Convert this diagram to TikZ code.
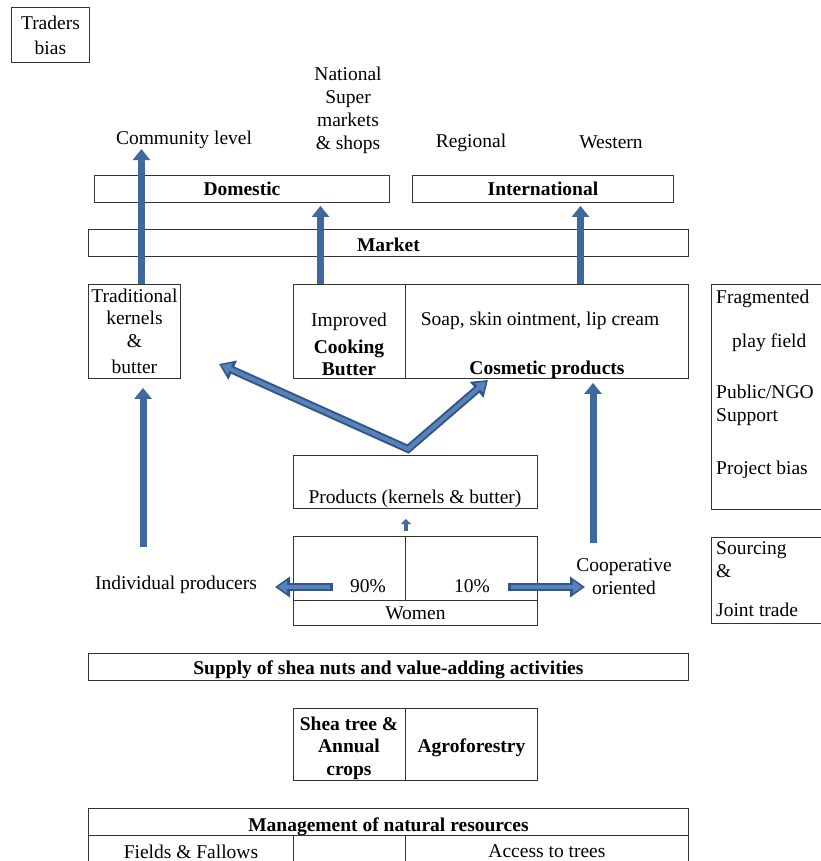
\documentclass[tikz,border=0pt]{standalone}
\usepackage{fontspec}
\setmainfont{Liberation Serif}
\usepackage{xcolor}
\usepackage{tikz}
\usetikzlibrary{arrows.meta,positioning,calc}
\definecolor{arrowblue}{RGB}{62,104,158}
\definecolor{arrowdark}{RGB}{50,86,136}
\definecolor{arrowlight}{RGB}{88,130,186}

\begin{document}
\begin{tikzpicture}[x=1pt,y=-1pt,
	box/.style={draw=black!80,line width=0.9pt,inner sep=0pt,anchor=north west,align=center,font=\fontsize{19.5}{23}\selectfont},
	boxlow/.style={box,text height=#1,text depth=0pt},
	lbl/.style={inner sep=0pt,align=center,font=\fontsize{19.5}{23}\selectfont},
	upar/.style={draw=arrowblue,line width=7pt,-{Triangle[width=17pt,length=11pt]}},
	smallar/.style={draw=arrowblue,line width=4pt,-{Triangle[width=10pt,length=5pt]}},
	blockar/.style={draw=arrowdark,line width=8pt,line join=miter,>={Triangle[width=20pt,length=15pt]},#1,
		postaction={draw=arrowlight,line width=4pt,shorten >=3pt,shorten <=3pt,>={Triangle[width=12pt,length=9pt]},#1}}]

	\useasboundingbox (0,0) rectangle (820,861);

  	\node[box,minimum width=78,minimum height=55] at (11,7) (traders) {Traders\\[2pt]bias};

  	\node[lbl] at (348,110) (natl) {National\\Super\\markets\\\& shops};
  	\node[lbl] at (184,140) (comm) {Community level};
  	\node[lbl] at (471,143) (regional) {Regional};
  	\node[lbl] at (611,142) (western) {Western};

  	\node[box,minimum width=295,minimum height=27] at (94,175) (domestic) {\textbf{Domestic}};
  	\node[box,minimum width=261,minimum height=27] at (412,175) (intl) {\textbf{International}};
  	\node[boxlow=17pt,minimum width=600,minimum height=27] at (88,229) (market) {\textbf{Market}};

  	\node[box,minimum width=92,minimum height=94] at (88,284) (trad) {Traditional\\[-1pt]kernels\\\&\\[3pt]butter};
  	\node[box,minimum width=112,minimum height=94] at (293,284) (improved) {};
  	\node[box,minimum width=283,minimum height=94] at (405,284) (cosmetic) {};
  		\node[lbl] at (349,344) (imptxt) {Improved\\[4pt]\textbf{Cooking}\\[-1pt]\textbf{Butter}};
  		\node[lbl] at (540,321) (soaptxt) {Soap, skin ointment, lip cream};
  		\node[lbl] at (547,370) (cosmtxt) {\textbf{Cosmetic products}};

  	\node[box,minimum width=120,minimum height=225] at (711,284) (field) {};
  		\node[lbl,align=left,anchor=north west] at (716,290) (fieldtxt) {Fragmented\\[21pt]\hspace*{16pt}play field\\[28pt]Public/NGO\\Support\\[30pt]Project bias};

  	\node[box,minimum width=244,minimum height=53] at (293,455) (products) {};
  		\node[lbl] at (415,499) (prodtxt) {Products (kernels \& butter)};

  	\node[box,minimum width=112,minimum height=64] at (293,536) (w90) {};
  	\node[box,minimum width=132,minimum height=64] at (405,536) (w10) {};
  	\node[boxlow=14pt,minimum width=244,minimum height=25] at (293,600) (women) {Women};
  		\node[lbl] at (368,586) (p90) {90\%};
  		\node[lbl] at (472,586) (p10) {10\%};

  	\node[lbl] at (176,585) (indiv) {Individual producers};
  	\node[lbl] at (624,577) (coop) {Cooperative\\oriented};

  	\node[box,minimum width=120,minimum height=86] at (711,537) (sourcing) {};
  		\node[lbl,align=left,anchor=north west] at (716,541) (srctxt) {Sourcing\\\&\\[16pt]Joint trade};

  	\node[boxlow=16pt,minimum width=600,minimum height=27] at (88,653) (supply) {\textbf{Supply of shea nuts and value-adding activities}};
  	\node[box,minimum width=112,minimum height=72] at (293,708) (shea) {};
  		\node[lbl] at (349,748) (sheatxt) {\textbf{Shea tree \&}\\[-1pt]\textbf{Annual}\\\textbf{crops}};
  	\node[boxlow=16pt,minimum width=132,minimum height=72] at (405,708) (agro) {\textbf{Agroforestry}};

  	\node[boxlow=19pt,minimum width=600,minimum height=27] at (88,808) (mgmt) {\textbf{Management of natural resources}};
  	\node[box,minimum width=205,minimum height=32] at (88,835) (fields) {Fields \& Fallows};
  	\node[box,minimum width=112,minimum height=32] at (293,835) (midcell) {};
  	\node[box,minimum width=283,minimum height=32] at (405,835) (access) {Access to trees};

  	\coordinate (ipfoot) at (143,547);
  	\coordinate (cofoot) at (593,543);
  	\coordinate (tail90) at (333,587);
  	\coordinate (tipindiv) at (275,587);
  	\coordinate (tail10) at (508,587);
  	\coordinate (tipcoop) at (585,587);
  	\coordinate (vtip1) at (219,364);
  	\coordinate (vbase) at (408,449);
  	\coordinate (vtip2) at (488,380);

  	\draw[upar] ([xshift=7pt]trad.north) -- ([xshift=7pt]trad.north |- comm.south);
  	\draw[upar,shorten >=3pt] ([xshift=-29pt]improved.north) -- ([xshift=-29pt]improved.north |- domestic.south);
  	\draw[upar,shorten >=3pt] ([xshift=33.5pt]cosmetic.north) -- ([xshift=33.5pt]cosmetic.north |- intl.south);

  	\draw[upar,shorten >=9pt] (ipfoot) -- (ipfoot |- trad.south);
  	\draw[upar,shorten >=4pt] (cofoot) -- (cofoot |- cosmetic.south);

  	\draw[smallar] ([yshift=5pt]w90.north east) -- ([yshift=17pt]w90.north east);

  	\draw[blockar=->] (tail90) -- (tipindiv);
  	\draw[blockar=->] (tail10) -- (tipcoop);
  	\draw[blockar=<->] (vtip1) -- (vbase) -- (vtip2);

\end{tikzpicture}
\end{document}
